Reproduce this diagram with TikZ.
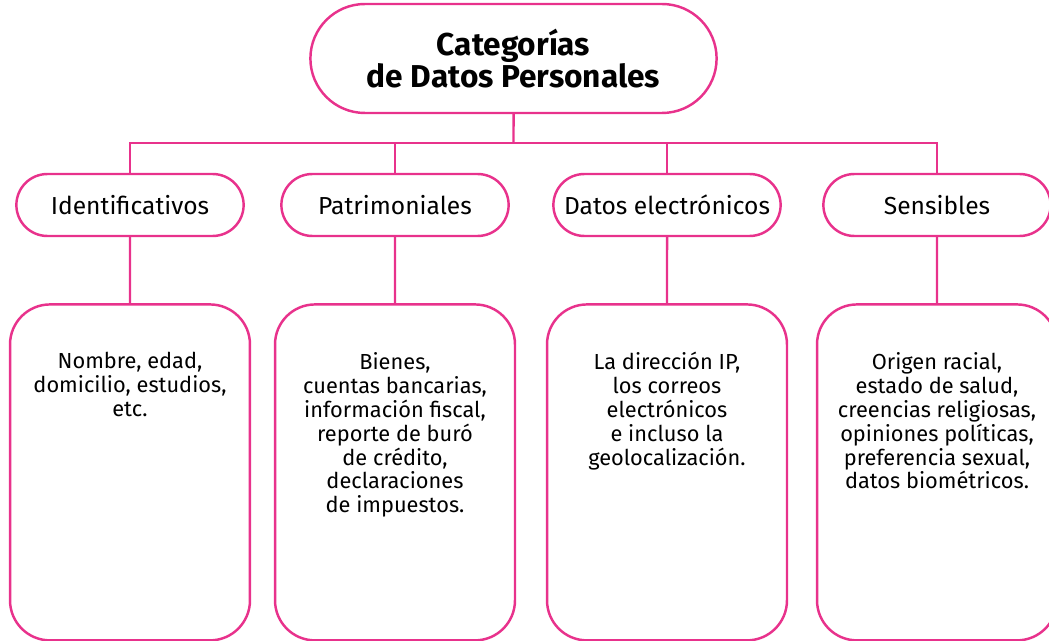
\documentclass[tikz,border=0pt]{standalone}
\usepackage{fontspec}
\setmainfont{Fira Sans}
\usepackage{tikz}
\usetikzlibrary{positioning,shapes.misc}
\definecolor{rosa}{RGB}{232,50,140}
\newcommand{\Detalle}[1]{\parbox[c][6.72cm][t]{4.6cm}{\centering\vspace*{0.96cm}#1}}

\begin{document}
\begin{tikzpicture}[x=0.02cm,y=-0.02cm,node distance=1.32cm,line width=1.4pt
    ,titulo/.style = {draw=rosa,rounded rectangle,minimum width=8.36cm,minimum height=2.18cm,
                      align=center,font=\bfseries\fontsize{18}{17}\selectfont}
    ,categoria/.style = {draw=rosa,rounded rectangle,minimum width=4.78cm,minimum height=1.24cm,
                      font=\fontsize{14}{16}\selectfont}
    ,detalle/.style = {draw=rosa,rectangle,rounded corners=0.8cm,minimum width=4.8cm,
                      minimum height=6.72cm,inner sep=0pt,font=\fontsize{12.4}{13.6}\selectfont}
    ,enlace/.style = {draw=rosa}
  ]
  \useasboundingbox (0,0) rectangle (1049,641);
  \clip (0,0) rectangle (1049,641);

  \node[titulo] (titulo) at (513.5,58.5) {Categorías\\de Datos Personales};
  \coordinate (reparto) at (513.5,143);

  \node[categoria] (ident) at (130,205) {Identificativos};
  \node[categoria] (patri) at (395,205) {Patrimoniales};
  \node[categoria] (elec) at (667,205) {Datos electrónicos};
  \node[categoria] (sens) at (937,205) {Sensibles};

  \node[detalle] (det-ident) [below=of ident] {\Detalle{Nombre, edad,\\domicilio, estudios,\\etc.}};
  \node[detalle] (det-patri) [below=of patri] {\Detalle{Bienes,\\cuentas bancarias,\\información fiscal,\\reporte de buró\\de crédito,\\declaraciones\\de impuestos.}};
  \node[detalle] (det-elec) [below=of elec] {\Detalle{La dirección IP,\\los correos\\electrónicos\\e incluso la\\geolocalización.}};
  \node[detalle] (det-sens) [below=of sens] {\Detalle{Origen racial,\\estado de salud,\\creencias religiosas,\\opiniones políticas,\\preferencia sexual,\\datos biométricos.}};

  \draw[enlace] (titulo) -- (reparto);
  \foreach \c in {ident,patri,elec,sens}{
    \draw[enlace] (reparto) -| (\c);
    \draw[enlace] (\c) -- (det-\c);
  }
\end{tikzpicture}
\end{document}
